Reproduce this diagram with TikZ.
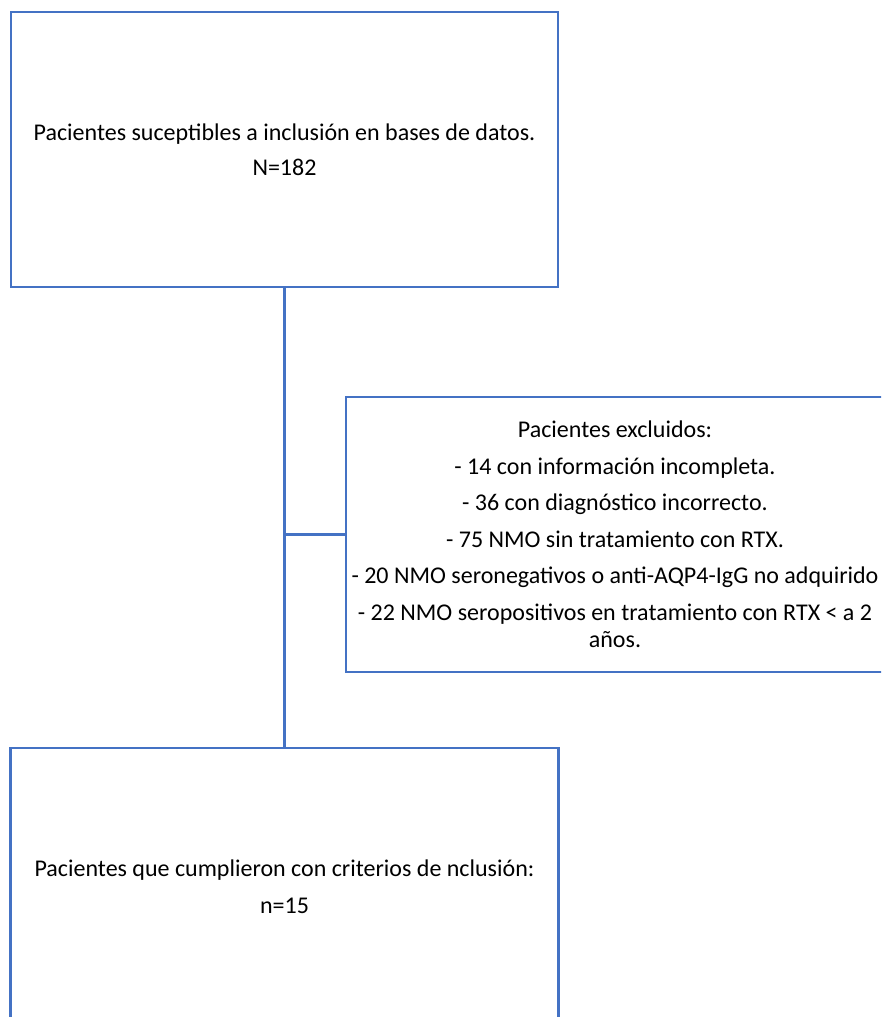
\documentclass[tikz,border=0pt]{standalone}
\usepackage{fontspec}
\setmainfont{Carlito}
\definecolor{azul}{HTML}{4472C4}

\begin{document}
\begin{tikzpicture}[x=1pt,y=-1pt,
    caja/.style={draw=azul,line width=2.5pt,align=center,inner sep=0pt,
      minimum height=275pt,font=\fontsize{24}{36.5}\selectfont},
    linea/.style={draw=azul,line width=2.5pt}]
  \clip (0,0) rectangle (881,1017);

  \node[caja,minimum width=547pt] (suceptibles) at (284.5,149.5)
    {Pacientes suceptibles a inclusión en bases de datos.\\[-1.5pt]N=182};

  \node[caja,minimum width=538pt] (excluidos) at (615,534.5)
    {Pacientes excluidos:\\
     - 14 con información incompleta.\\
     - 36 con diagnóstico incorrecto.\\
     - 75 NMO sin tratamiento con RTX.\\
     - 20 NMO seronegativos o anti-AQP4-IgG no adquirido\\
     - 22 NMO seropositivos en tratamiento con RTX < a 2\\[-9.5pt]
     años.};

  \node[caja,minimum width=548pt,minimum height=277pt] (incluidos) at (284.5,886.5)
    {Pacientes que cumplieron con criterios de nclusión:\\n=15};

  \draw[linea] (suceptibles.south) -- (incluidos.north);
  \draw[linea] (excluidos.west) -- (excluidos.west -| suceptibles.south);
\end{tikzpicture}
\end{document}
